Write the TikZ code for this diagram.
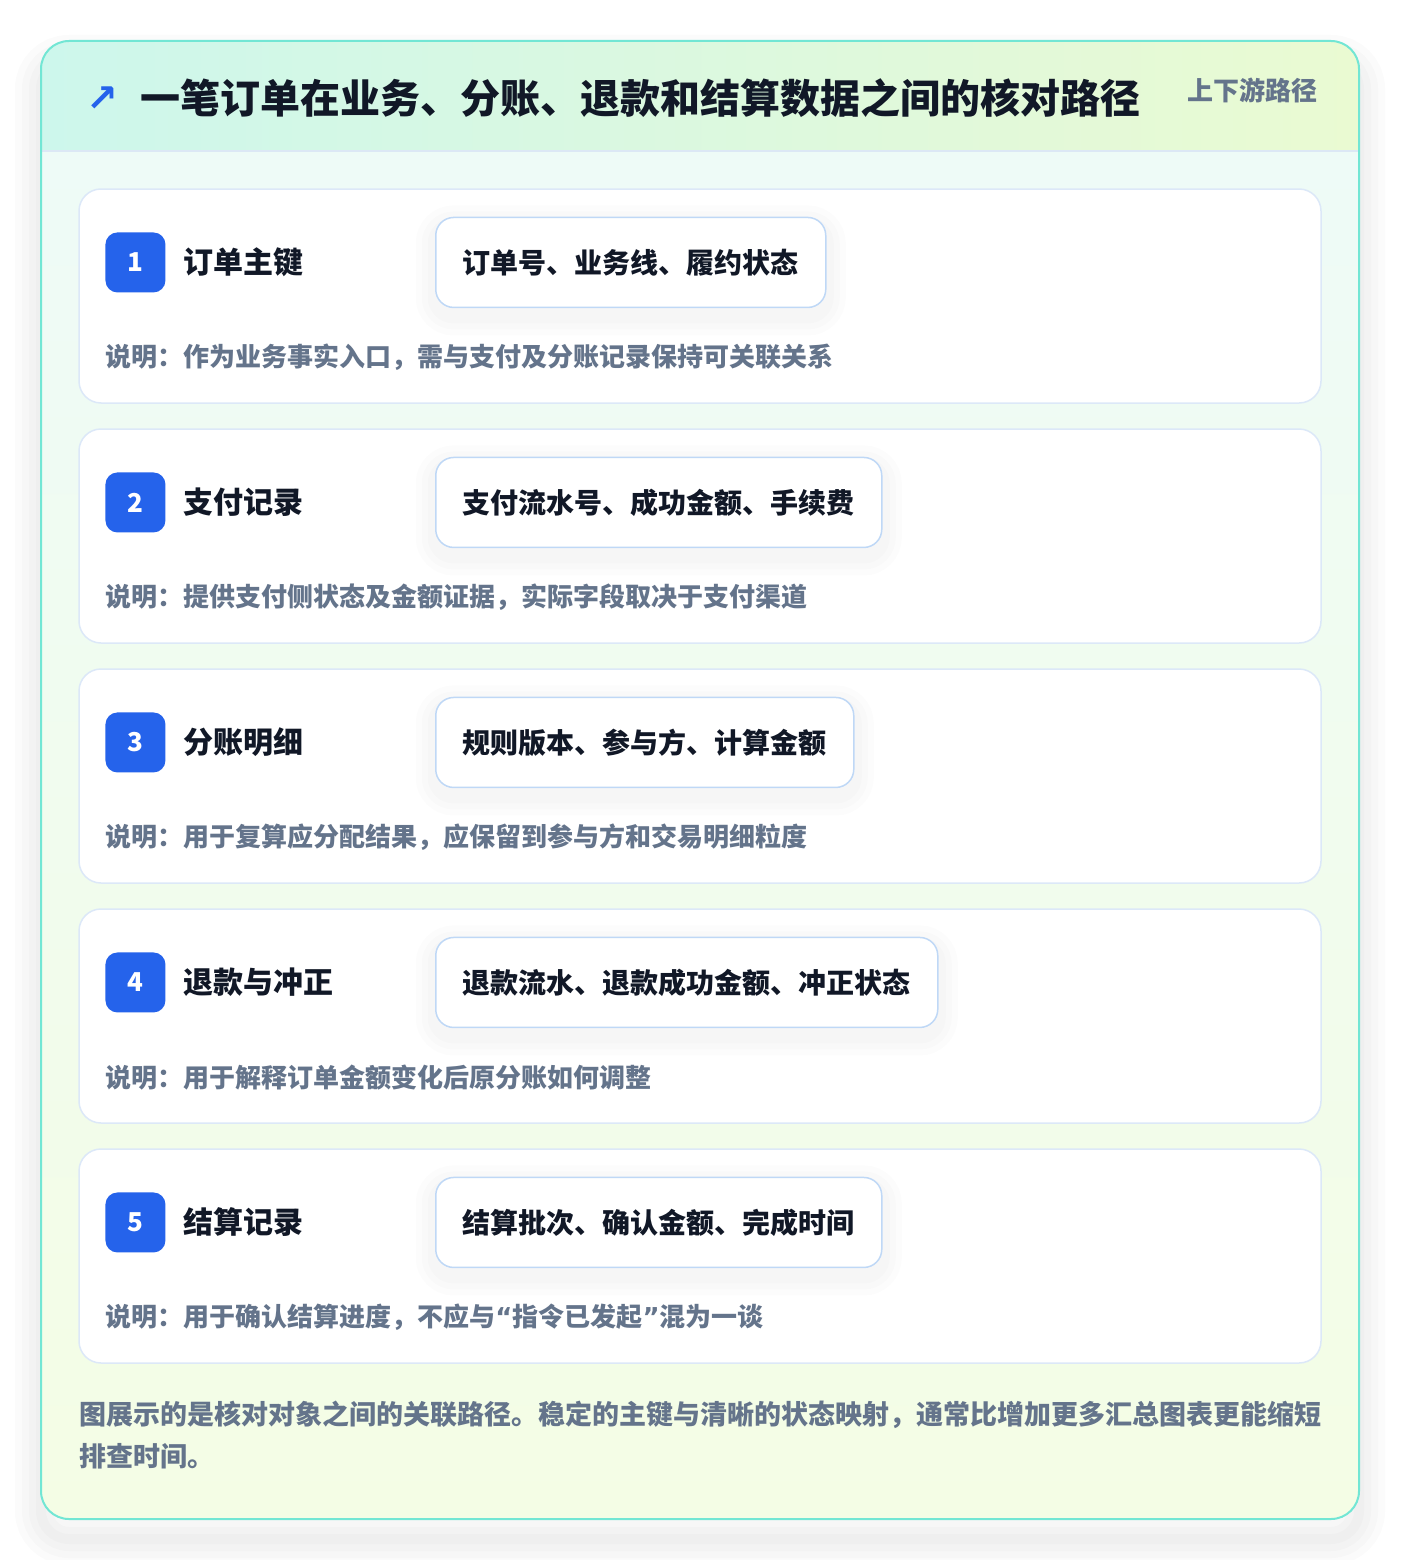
\documentclass[tikz,border=0pt]{standalone}
\usepackage{fontspec}
\setmainfont{Noto Sans CJK SC}
\newfontfamily\arrowfont{DejaVu Sans}
\usetikzlibrary{positioning}

\begin{document}
\begin{tikzpicture}
	[x=1pt,y=-1pt,line cap=round,
	%Styles
	panel/.style={rounded corners=28pt},
	haze/.style={preaction={draw=black,draw opacity=#1,line width=40pt,transform canvas={yshift=-8pt}},
		preaction={draw=black,draw opacity=#1,line width=28pt,transform canvas={yshift=-8pt}},
		preaction={draw=black,draw opacity=#1,line width=16pt,transform canvas={yshift=-8pt}}},
	card/.style={draw=cardline,line width=1.5pt,fill=white,rounded corners=22pt,minimum width=1242pt,minimum height=214pt,inner sep=0pt},
	badge/.style={fill=badgeblue,rounded corners=12pt,minimum size=60pt,inner sep=0pt,text=white,font=\fontsize{26}{28}\selectfont\bfseries},
	item label/.style={inner sep=0pt,text=ink,font=\fontsize{30}{36}\selectfont\bfseries},
	field/.style={haze=0.012,draw=fieldline,line width=1.5pt,fill=white,rounded corners=18pt,minimum height=90pt,inner xsep=27pt,inner ysep=0pt,text=ink,font=\fontsize{28}{34}\selectfont\bfseries},
	note/.style={inner sep=0pt,text=slate,font=\fontsize{26}{30}\selectfont\bfseries}
	]
	
	%Colors
	\definecolor{ink}{HTML}{111827}
	\definecolor{slate}{HTML}{64748B}
	\definecolor{badgeblue}{HTML}{2563EB}
	\definecolor{cardline}{HTML}{DCE8F8}
	\definecolor{fieldline}{HTML}{BFD8F6}
	\definecolor{panelline}{HTML}{72E6D4}
	\definecolor{headleft}{HTML}{CDF7EC}
	\definecolor{headright}{HTML}{EAFAD2}
	\definecolor{bodytop}{HTML}{EEFBF7}
	\definecolor{bodybottom}{HTML}{F4FDE5}
	\definecolor{headline}{HTML}{DCE8F5}
	
	%Page and panel
	\fill[white] (0,0) rectangle (1400,1560);
	\useasboundingbox (0,0) rectangle (1400,1560);
	\path[panel,fill=white,
		preaction={draw=black,draw opacity=0.016,line width=52pt,transform canvas={yshift=-20pt}},
		preaction={draw=black,draw opacity=0.016,line width=38pt,transform canvas={yshift=-20pt}},
		preaction={draw=black,draw opacity=0.016,line width=24pt,transform canvas={yshift=-20pt}},
		preaction={draw=black,draw opacity=0.016,line width=10pt,transform canvas={yshift=-20pt}}] (41,41) rectangle (1359,1519);
	\begin{scope}
		\clip[panel] (41,41) rectangle (1359,1519);
		\shade[left color=headleft,right color=headright] (41,41) rectangle (1359,151);
		\shade[top color=bodytop,bottom color=bodybottom] (41,151) rectangle (1359,1519);
	\end{scope}
	\draw[headline,line width=1.5pt] (41,151) -- (1359,151);
	\draw[panelline,line width=2pt,panel] (41,41) rectangle (1359,1519);
	
	%Header
	\node[text=badgeblue,inner sep=0pt,font=\arrowfont\bfseries\fontsize{38}{38}\selectfont] (arrow) at (102,99) {↗};
	\node[anchor=west,inner sep=0pt,text=ink,font=\fontsize{40}{48}\selectfont\bfseries] (title) at (140,98) {一笔订单在业务、分账、退款和结算数据之间的核对路径};
	\node[anchor=east,inner sep=0pt,text=slate,font=\fontsize{26}{30}\selectfont\bfseries] (tag) at (1318,90) {上下游路径};
	
	\coordinate (fieldx) at (435,0);
	
	%Step 1
	\node[card] (card1) at (700,296) {};
	\node[badge,below right=44pt and 27pt of card1.north west] (num1) {1};
	\node[item label,right=18pt of num1] (name1) {订单主键};
	\node[field,anchor=west] (keys1) at (fieldx |- num1) {订单号、业务线、履约状态};
	\node[note,anchor=west] (note1) at ([yshift=-95pt]num1.west) {说明：作为业务事实入口，需与支付及分账记录保持可关联关系};
	
	%Step 2
	\node[card] (card2) at (700,536) {};
	\node[badge,below right=44pt and 27pt of card2.north west] (num2) {2};
	\node[item label,right=18pt of num2] (name2) {支付记录};
	\node[field,anchor=west] (keys2) at (fieldx |- num2) {支付流水号、成功金额、手续费};
	\node[note,anchor=west] (note2) at ([yshift=-95pt]num2.west) {说明：提供支付侧状态及金额证据，实际字段取决于支付渠道};
	
	%Step 3
	\node[card] (card3) at (700,776) {};
	\node[badge,below right=44pt and 27pt of card3.north west] (num3) {3};
	\node[item label,right=18pt of num3] (name3) {分账明细};
	\node[field,anchor=west] (keys3) at (fieldx |- num3) {规则版本、参与方、计算金额};
	\node[note,anchor=west] (note3) at ([yshift=-95pt]num3.west) {说明：用于复算应分配结果，应保留到参与方和交易明细粒度};
	
	%Step 4
	\node[card] (card4) at (700,1016) {};
	\node[badge,below right=44pt and 27pt of card4.north west] (num4) {4};
	\node[item label,right=18pt of num4] (name4) {退款与冲正};
	\node[field,anchor=west] (keys4) at (fieldx |- num4) {退款流水、退款成功金额、冲正状态};
	\node[note,anchor=west] (note4) at ([yshift=-95pt]num4.west) {说明：用于解释订单金额变化后原分账如何调整};
	
	%Step 5
	\node[card] (card5) at (700,1256) {};
	\node[badge,below right=44pt and 27pt of card5.north west] (num5) {5};
	\node[item label,right=18pt of num5] (name5) {结算记录};
	\node[field,anchor=west] (keys5) at (fieldx |- num5) {结算批次、确认金额、完成时间};
	\node[note,anchor=west] (note5) at ([yshift=-95pt]num5.west) {说明：用于确认结算进度，不应与{\arrowfont “}指令已发起{\arrowfont ”}混为一谈};
	
	%Summary
	\node[anchor=north west,inner sep=0pt,align=left,text=slate,font=\fontsize{27}{42}\selectfont\bfseries] (summary) at (79,1401) {图展示的是核对对象之间的关联路径。稳定的主键与清晰的状态映射，通常比增加更多汇总图表更能缩短\\排查时间。};
\end{tikzpicture}
\end{document}
